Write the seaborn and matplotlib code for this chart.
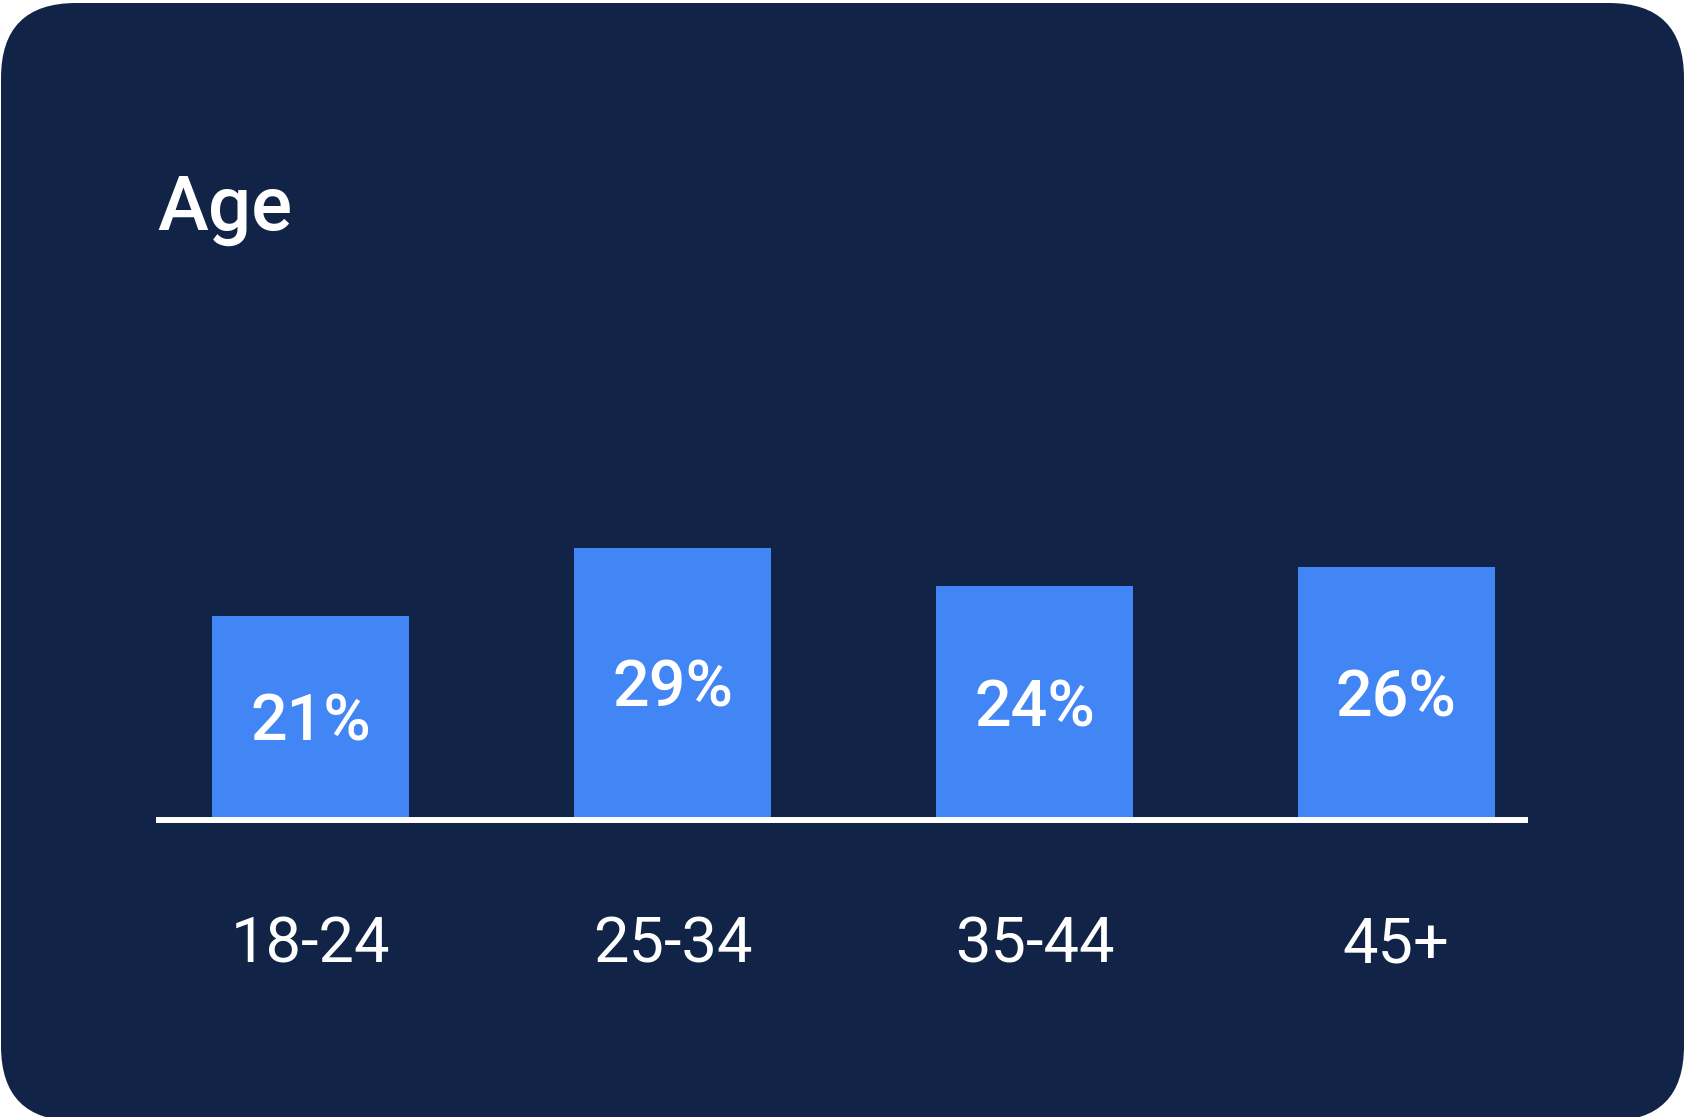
import matplotlib
matplotlib.use("Agg")
import matplotlib.pyplot as plt
from matplotlib.patches import FancyBboxPatch
from matplotlib.transforms import IdentityTransform
import seaborn as sns
import pandas as pd

# ---- data ----
categories = ["18-24", "25-34", "35-44", "45+"]
values = [21, 28, 24, 26]
value_labels = ["21%", "29%", "24%", "26%"]
title = "Age"

NAVY = "#112448"
BLUE = "#4285F4"
WHITE = "#FFFFFF"

sns.set_theme(style="white")
plt.rcParams["font.family"] = ["Roboto", "DejaVu Sans"]

W, H, DPI = 1685, 1117, 100
fig = plt.figure(figsize=(W / DPI, H / DPI), dpi=DPI, facecolor="white")

# rounded card background (pixel coordinates)
card = FancyBboxPatch((1, -4), 1683, 1118,
                      boxstyle="round,pad=0,rounding_size=75",
                      transform=IdentityTransform(),
                      facecolor=NAVY, edgecolor="none", zorder=0)
fig.add_artist(card)

# axes placement in pixels
left_px, right_px = 156, 1528
base_px, top_px = 820, 400
ax = fig.add_axes([left_px / W, (H - base_px) / H,
                   (right_px - left_px) / W, (base_px - top_px) / H])
ax.set_facecolor("none")

df = pd.DataFrame({"age": categories, "share": values})
sns.barplot(data=df, x="age", y="share", order=categories,
            color=BLUE, saturation=1, width=0.545, ax=ax, zorder=2,
            edgecolor="none", linewidth=0)

ax.set_xlim(-0.428, 3.364)
unit_px = 9.73
ax.set_ylim(0, (base_px - top_px) / unit_px)

ax.axhline(0, color=WHITE, lw=4.3, zorder=3, solid_capstyle="butt", clip_on=False)

for s in ax.spines.values():
    s.set_visible(False)
ax.set_yticks([])
ax.set_xlabel("")
ax.set_ylabel("")
ax.tick_params(axis="x", length=0, pad=69, labelsize=45.5, labelcolor=WHITE)

digit_h = 46 / unit_px
for i, (v, lab) in enumerate(zip(values, value_labels)):
    ax.text(i, v / 2 - digit_h / 2, lab, ha="center", va="baseline",
            color=WHITE, fontsize=46.5, fontweight="medium", zorder=4)

fig.text(157 / W, (H - 230) / H, title, ha="left", va="baseline",
         color=WHITE, fontsize=55, fontweight="medium")

fig.savefig("out.png", dpi=DPI, facecolor="white")
